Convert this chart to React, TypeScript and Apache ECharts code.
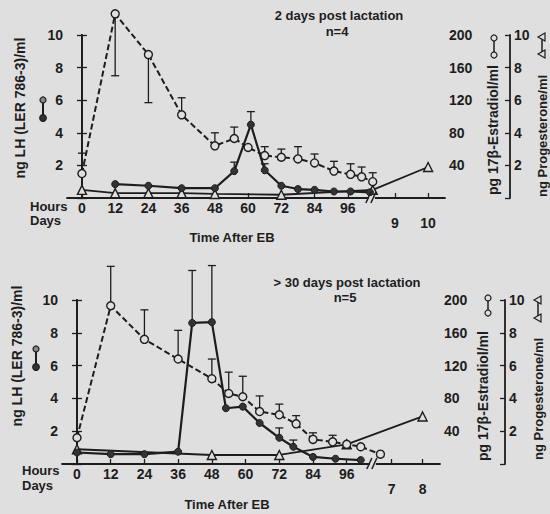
import React, { useEffect, useRef } from "react";
import * as echarts from "echarts";

// ---------- Panel 1: 2 days post lactation (n=4) ----------
const topHourTicks = [0, 12, 24, 36, 48, 60, 72, 84, 96];
const topDayPos = [113, 125];
const topDayLabels = ["9", "10"];
const topBreak = 104.7;

const topE2Hours = [0, 12, 24, 36, 48, 55, 60, 66, 72, 78, 84, 91, 97, 101, 105];
const topE2 = [30, 226, 176, 102, 64, 73, 62, 52, 50, 48, 43, 33, 29, 26, 20];
const topE2ErrEnd = [55, 150, 117, 123, 80, 87, null, 63, 60, 63, 54, 45, 42, 38, 31];

const topLHHours = [12, 24, 36, 48, 55, 61, 66, 72, 78, 84, 91, 97, 104];
const topLH = [0.85, 0.75, 0.6, 0.6, 1.65, 4.5, 1.7, 0.75, 0.55, 0.5, 0.4, 0.4, 0.35];
const topLHErrEnd = [null, null, null, null, 2.2, 5.3, 2.1, null, null, null, null, null, null];

const topPHours = [0, 12, 24, 36, 48, 72, 105, 125];
const topP = [0.5, 0.3, 0.3, 0.3, 0.25, 0.2, 0.5, 1.9];

// ---------- Panel 2: > 30 days post lactation (n=5) ----------
const botHourTicks = [0, 12, 24, 36, 48, 60, 72, 84, 96];
const botDayPos = [112, 123];
const botDayLabels = ["7", "8"];
const botBreak = 105.3;

const botE2Hours = [0, 12, 24, 36, 48, 54, 59, 65, 72, 78, 84, 91, 96, 101, 108];
const botE2 = [32, 193, 152, 128, 104, 86, 82, 64, 60, 49, 30, 27, 24, 21, 12];
const botE2ErrEnd = [null, 241, 188, 163, 128, 112, 107, 83, 73, 59, 38, 35, null, null, null];

const botLHHours = [0, 12, 24, 36, 41, 48, 53, 59, 65, 72, 77, 84, 92, 101];
const botLH = [0.7, 0.6, 0.6, 0.75, 8.6, 8.65, 3.4, 3.5, 2.5, 1.6, 1.05, 0.43, 0.32, 0.24];
const botLHErrEnd = [null, null, null, null, 11.8, 12.1, null, null, null, 2.2, 1.46, null, null, null];

const botPHours = [0, 48, 72, 96, 123];
const botP = [0.9, 0.55, 0.55, 1.2, 2.9];

// ---------- style ----------
const INK = "#1d1d1d";
const BG = "#dfdfdf";
const FONT = "'Liberation Sans', Arial, sans-serif";

const zip = (xs: number[], ys: (number | null)[]) => xs.map((x, i) => [x, ys[i]]);
const errData = (xs: number[], ys: number[], ends: (number | null)[]) =>
  xs.map((x, i) => [x, ys[i], ends[i]]).filter((d) => d[2] !== null);

function errorSeries(xi: number, yi: number, data: any[]) {
  return {
    type: "custom",
    xAxisIndex: xi,
    yAxisIndex: yi,
    clip: false,
    z: 2,
    silent: true,
    data,
    renderItem: (_p: any, api: any) => {
      const x = api.value(0);
      const p0 = api.coord([x, api.value(1)]);
      const p1 = api.coord([x, api.value(2)]);
      const st = { stroke: INK, lineWidth: 1.3 };
      return {
        type: "group",
        children: [
          { type: "line", shape: { x1: p0[0], y1: p0[1], x2: p1[0], y2: p1[1] }, style: st },
          { type: "line", shape: { x1: p1[0] - 4, y1: p1[1], x2: p1[0] + 4, y2: p1[1] }, style: st },
        ],
      };
    },
  };
}

function breakSeries(xi: number, yi: number, bx: number) {
  return {
    type: "custom",
    xAxisIndex: xi,
    yAxisIndex: yi,
    clip: false,
    z: 6,
    silent: true,
    data: [[bx, 0]],
    renderItem: (_p: any, api: any) => {
      const c = api.coord([api.value(0), api.value(1)]);
      const st = { stroke: INK, lineWidth: 1.5 };
      return {
        type: "group",
        children: [
          { type: "rect", shape: { x: c[0] - 3, y: c[1] - 2, width: 6, height: 4 }, style: { fill: BG } },
          { type: "line", shape: { x1: c[0] - 6, y1: c[1] + 5, x2: c[0] - 1, y2: c[1] - 6 }, style: st },
          { type: "line", shape: { x1: c[0] - 1, y1: c[1] + 5, x2: c[0] + 4, y2: c[1] - 6 }, style: st },
        ],
      };
    },
  };
}

const labelStyle = { color: INK, fontFamily: FONT, fontWeight: "bold" as const, fontSize: 14 };

function panel(
  idx: number,
  cfg: {
    xMin: number; xMax: number; hours: number[]; dayPos: number[]; dayLabels: string[]; brk: number;
    e2h: number[]; e2: number[]; e2err: (number | null)[];
    lhh: number[]; lh: number[]; lherr: (number | null)[];
    ph: number[]; p: number[];
  }
) {
  const xi = idx * 2;
  const yi = idx * 3;
  const xAxis = [
    {
      type: "value", gridIndex: idx, min: cfg.xMin, max: cfg.xMax, position: "bottom",
      axisLine: { show: true, onZero: false, lineStyle: { color: INK, width: 1.8 } },
      axisTick: { show: true, inside: true, length: 5, customValues: [...cfg.hours, ...cfg.dayPos], lineStyle: { color: INK, width: 1.3 } },
      axisLabel: { ...labelStyle, margin: 3, customValues: cfg.hours, formatter: (v: number) => String(v) },
      splitLine: { show: false },
    },
    {
      type: "value", gridIndex: idx, min: cfg.xMin, max: cfg.xMax, position: "bottom",
      axisLine: { show: false }, axisTick: { show: false }, splitLine: { show: false },
      axisLabel: {
        ...labelStyle, margin: 18, customValues: cfg.dayPos,
        formatter: (v: number) => {
          const k = cfg.dayPos.findIndex((d) => Math.abs(d - v) < 0.01);
          return k >= 0 ? cfg.dayLabels[k] : "";
        },
      },
    },
  ];
  const yCommon = {
    type: "value", gridIndex: idx, min: 0,
    axisLine: { show: true, lineStyle: { color: INK, width: 1.8 } },
    axisTick: { show: true, inside: true, length: 5, lineStyle: { color: INK, width: 1.3 } },
    splitLine: { show: false },
  };
  const hideZero = (v: number) => (v === 0 ? "" : String(v));
  const yAxis = [
    { ...yCommon, position: "left", max: 10, interval: 2, axisLabel: { ...labelStyle, margin: 4, formatter: hideZero } },
    { ...yCommon, position: "right", max: 200, interval: 40, axisLabel: { ...labelStyle, margin: 4, formatter: hideZero } },
    { ...yCommon, position: "right", offset: 65, max: 10, interval: 2, axisLabel: { ...labelStyle, margin: 4, formatter: hideZero } },
  ];
  const series = [
    errorSeries(xi, yi + 1, errData(cfg.e2h, cfg.e2, cfg.e2err)),
    errorSeries(xi, yi, errData(cfg.lhh, cfg.lh, cfg.lherr)),
    {
      type: "line", name: "P", xAxisIndex: xi, yAxisIndex: yi + 2, data: zip(cfg.ph, cfg.p), clip: false, z: 3,
      symbol: "triangle", symbolSize: 9, showSymbol: true,
      lineStyle: { color: INK, width: 1.8 },
      itemStyle: { color: BG, borderColor: INK, borderWidth: 1.4 },
    },
    {
      type: "line", name: "E2", xAxisIndex: xi, yAxisIndex: yi + 1, data: zip(cfg.e2h, cfg.e2), clip: false, z: 4,
      symbol: "circle", symbolSize: 8, showSymbol: true,
      lineStyle: { color: INK, width: 2, type: [6, 3] },
      itemStyle: { color: BG, borderColor: INK, borderWidth: 1.4 },
    },
    {
      type: "line", name: "LH", xAxisIndex: xi, yAxisIndex: yi, data: zip(cfg.lhh, cfg.lh), clip: false, z: 5,
      symbol: "circle", symbolSize: 7, showSymbol: true,
      lineStyle: { color: INK, width: 2.2 },
      itemStyle: { color: "#333", borderColor: INK, borderWidth: 1 },
    },
    breakSeries(xi, yi, cfg.brk),
  ];
  return { xAxis, yAxis, series };
}

const txt = (text: string, x: number, y: number, opts: any = {}) => ({
  type: "text",
  x, y,
  rotation: opts.rot ? Math.PI / 2 : 0,
  z: 10,
  style: {
    text, fill: INK,
    font: `bold ${opts.size || 14}px ${FONT}`,
    textAlign: opts.align || "center",
    textVerticalAlign: "middle",
  },
});

const lhIcon = (x: number, y1: number, y2: number) => [
  { type: "line", z: 10, shape: { x1: x, y1, x2: x, y2 }, style: { stroke: INK, lineWidth: 2 } },
  { type: "circle", z: 11, shape: { cx: x, cy: y1, r: 3 }, style: { fill: "#888", stroke: INK, lineWidth: 1.2 } },
  { type: "circle", z: 11, shape: { cx: x, cy: y2, r: 3.3 }, style: { fill: "#333", stroke: INK, lineWidth: 1.2 } },
];
const e2Icon = (x: number, y1: number, y2: number) => [
  { type: "line", z: 10, shape: { x1: x, y1, x2: x, y2 }, style: { stroke: INK, lineWidth: 1.5 } },
  { type: "circle", z: 11, shape: { cx: x, cy: y1, r: 3 }, style: { fill: BG, stroke: INK, lineWidth: 1.2 } },
  { type: "circle", z: 11, shape: { cx: x, cy: y2, r: 3 }, style: { fill: BG, stroke: INK, lineWidth: 1.2 } },
];
const tri = (x: number, y: number) => ({
  type: "polygon", z: 11,
  shape: { points: [[x - 4, y], [x + 3, y - 4], [x + 3, y + 4]] },
  style: { fill: BG, stroke: INK, lineWidth: 1.2 },
});
const pIcon = (x: number, y1: number, y2: number) => [
  { type: "line", z: 10, shape: { x1: x, y1, x2: x, y2 }, style: { stroke: INK, lineWidth: 1.5 } },
  tri(x, y1),
  tri(x, y2),
];

export default function App() {
  const ref = useRef<HTMLDivElement>(null);
  useEffect(() => {
    if (!ref.current) return;
    document.body.style.background = BG;
    const chart = echarts.init(ref.current, null, { renderer: "svg" });
    const p1 = panel(0, {
      xMin: -5.4, xMax: 131.1, hours: topHourTicks, dayPos: topDayPos, dayLabels: topDayLabels, brk: topBreak,
      e2h: topE2Hours, e2: topE2, e2err: topE2ErrEnd, lhh: topLHHours, lh: topLH, lherr: topLHErrEnd, ph: topPHours, p: topP,
    });
    const p2 = panel(1, {
      xMin: -5.34, xMax: 129.2, hours: botHourTicks, dayPos: botDayPos, dayLabels: botDayLabels, brk: botBreak,
      e2h: botE2Hours, e2: botE2, e2err: botE2ErrEnd, lhh: botLHHours, lh: botLH, lherr: botLHErrEnd, ph: botPHours, p: botP,
    });
    chart.setOption({
      animation: false,
      backgroundColor: BG,
      grid: [
        { left: 67, right: 105, top: 35, bottom: 316, containLabel: false },
        { left: 62, right: 110, top: 300, bottom: 50, containLabel: false },
      ],
      xAxis: [...p1.xAxis, ...p2.xAxis],
      yAxis: [...p1.yAxis, ...p2.yAxis],
      series: [...p1.series, ...p2.series],
      graphic: [
        txt("2 days post lactation", 339, 15, { size: 13 }),
        txt("n=4", 337, 31, { size: 13 }),
        txt("Time After EB", 232, 237, { size: 13 }),
        txt("Hours", 30, 206, { align: "left", size: 13 }),
        txt("Days", 30, 220, { align: "left", size: 13 }),
        txt("ng LH (LER 786-3)/ml", 20, 108, { rot: true }),
        txt("pg 17β-Estradiol/ml", 493, 130, { rot: true }),
        txt("ng Progesterone/ml", 542, 136, { rot: true, size: 13 }),
        ...lhIcon(43, 100, 118),
        ...e2Icon(494, 38, 55),
        ...pIcon(542, 37, 54),

        txt("> 30 days post lactation", 347, 282, { size: 13 }),
        txt("n=5", 345, 297, { size: 13 }),
        txt("Time After EB", 227, 504, { size: 13 }),
        txt("Hours", 22, 470, { align: "left", size: 13 }),
        txt("Days", 22, 485, { align: "left", size: 13 }),
        txt("ng LH (LER 786-3)/ml", 17, 356, { rot: true }),
        txt("pg 17β-Estradiol/ml", 483, 396, { rot: true }),
        txt("ng Progesterone/ml", 538, 399, { rot: true, size: 13 }),
        ...lhIcon(36, 349, 367),
        ...e2Icon(488, 298, 313),
        ...pIcon(538, 300, 318),
      ],
    });
    return () => chart.dispose();
  }, []);
  return (
    <div
      ref={ref}
      style={{ position: "fixed", left: 0, top: 0, width: 550, height: 514, background: BG }}
    />
  );
}
